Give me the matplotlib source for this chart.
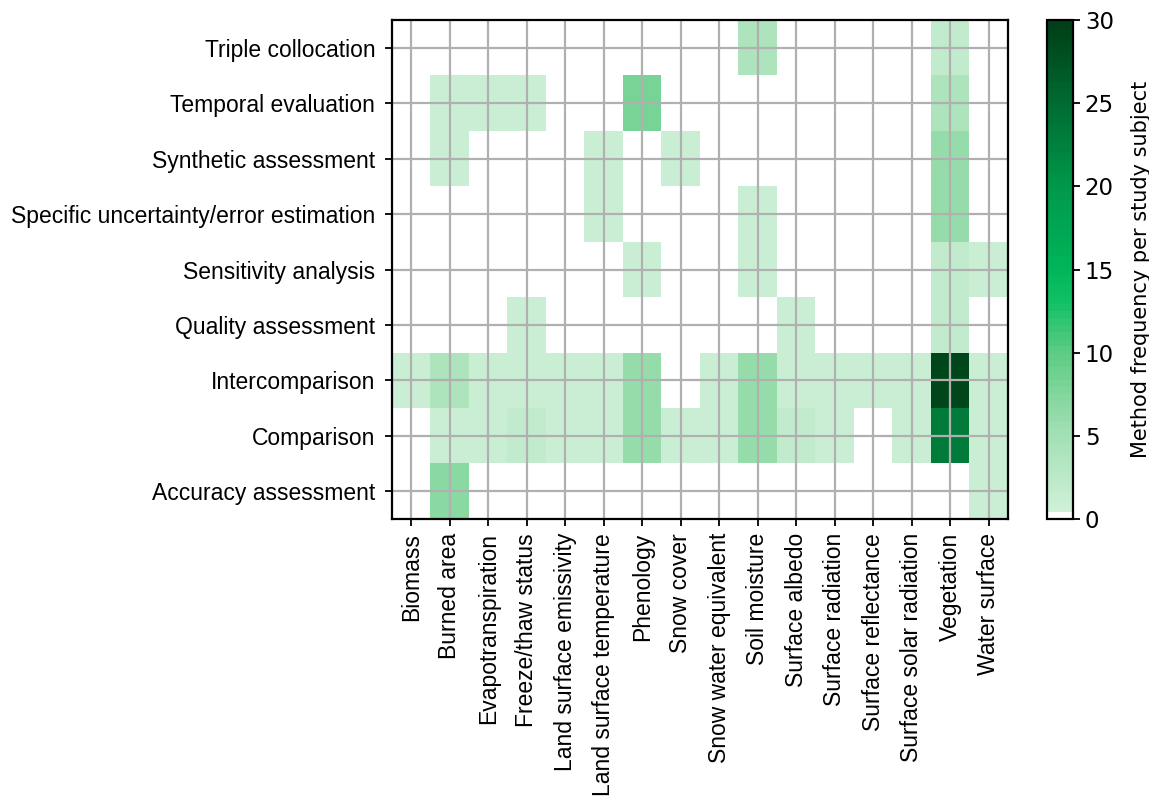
import numpy as np
import matplotlib
matplotlib.use("Agg")
import matplotlib.pyplot as plt
from matplotlib.colors import LinearSegmentedColormap, ListedColormap

# Study subjects (x axis) and evaluation methods (y axis, top to bottom)
subjects = [
    "Biomass", "Burned area", "Evapotranspiration", "Freeze/thaw status",
    "Land surface emissivity", "Land surface temperature", "Phenology",
    "Snow cover", "Snow water equivalent", "Soil moisture", "Surface albedo",
    "Surface radiation", "Surface reflectance", "Surface solar radiation",
    "Vegetation", "Water surface",
]
methods = [
    "Triple collocation", "Temporal evaluation", "Synthetic assessment",
    "Specific uncertainty/error estimation", "Sensitivity analysis",
    "Quality assessment", "Intercomparison", "Comparison",
    "Accuracy assessment",
]

# Method frequency per subject, one list per method
triple_collocation   = [0, 0, 0, 0, 0, 0, 0, 0, 0, 4, 0, 0, 0, 0, 2, 0]
temporal_evaluation  = [0, 1, 1, 1, 0, 0, 8, 0, 0, 0, 0, 0, 0, 0, 4, 0]
synthetic_assessment = [0, 1, 0, 0, 0, 1, 0, 1, 0, 0, 0, 0, 0, 0, 6, 0]
specific_uncertainty = [0, 0, 0, 0, 0, 1, 0, 0, 0, 1, 0, 0, 0, 0, 6, 0]
sensitivity_analysis = [0, 0, 0, 0, 0, 0, 1, 0, 0, 1, 0, 0, 0, 0, 2, 1]
quality_assessment   = [0, 0, 0, 1, 0, 0, 0, 0, 0, 0, 1, 0, 0, 0, 2, 0]
intercomparison      = [1, 4, 1, 1, 1, 1, 6, 0, 1, 6, 1, 1, 1, 1, 29, 1]
comparison           = [0, 1, 1, 2, 1, 1, 6, 1, 1, 6, 2, 1, 0, 1, 23, 1]
accuracy_assessment  = [0, 7, 0, 0, 0, 0, 0, 0, 0, 0, 0, 0, 0, 0, 0, 1]

counts = np.array([
    triple_collocation, temporal_evaluation, synthetic_assessment,
    specific_uncertainty, sensitivity_analysis, quality_assessment,
    intercomparison, comparison, accuracy_assessment,
], dtype=float)

vmin, vmax = 0, 30

# Mint-to-dark-green ramp, with zero shown as white
base = LinearSegmentedColormap.from_list(
    "mint_green",
    [(0.0, "#d2f1da"), (5 / 30, "#a2e0b3"), (10 / 30, "#5ccb83"),
     (13 / 30, "#12c065"), (15 / 30, "#00b65a"), (20 / 30, "#00984a"),
     (25 / 30, "#006c32"), (1.0, "#003f17")],
)
n_levels = 72
colors = base(np.linspace(0, 1, n_levels))
colors[0] = (1, 1, 1, 1)
cmap = ListedColormap(colors)

fig = plt.figure(figsize=(11.49, 7.99), dpi=100)
ax = fig.add_axes([0.3412, 0.3504, 0.5361, 0.6245])
cax = fig.add_axes([0.9110, 0.3504, 0.0229, 0.6245])

im = ax.imshow(counts, cmap=cmap, vmin=vmin, vmax=vmax, aspect="auto",
               interpolation="nearest")

label_font = "Liberation Sans"
ax.set_xticks(np.arange(len(subjects)))
ax.set_xticklabels(subjects, rotation=90, fontsize=16.5, family=label_font)
ax.set_yticks(np.arange(len(methods)))
ax.set_yticklabels(methods, fontsize=16.5, family=label_font)
ax.tick_params(axis="y", length=5, width=1.3, color="black", pad=7)
ax.tick_params(axis="x", length=5, width=1.3, color="black", pad=5)
ax.grid(True, color="#b0b0b0", linewidth=1.6)
for sp in ax.spines.values():
    sp.set_linewidth(1.6)

cb = fig.colorbar(im, cax=cax, ticks=[0, 5, 10, 15, 20, 25, 30])
cb.outline.set_linewidth(1.6)
cb.ax.tick_params(labelsize=16.5, length=5, width=1.3)
cb.set_label("Method frequency per study subject", fontsize=15, labelpad=12)

fig.savefig("out.png", dpi=100)
